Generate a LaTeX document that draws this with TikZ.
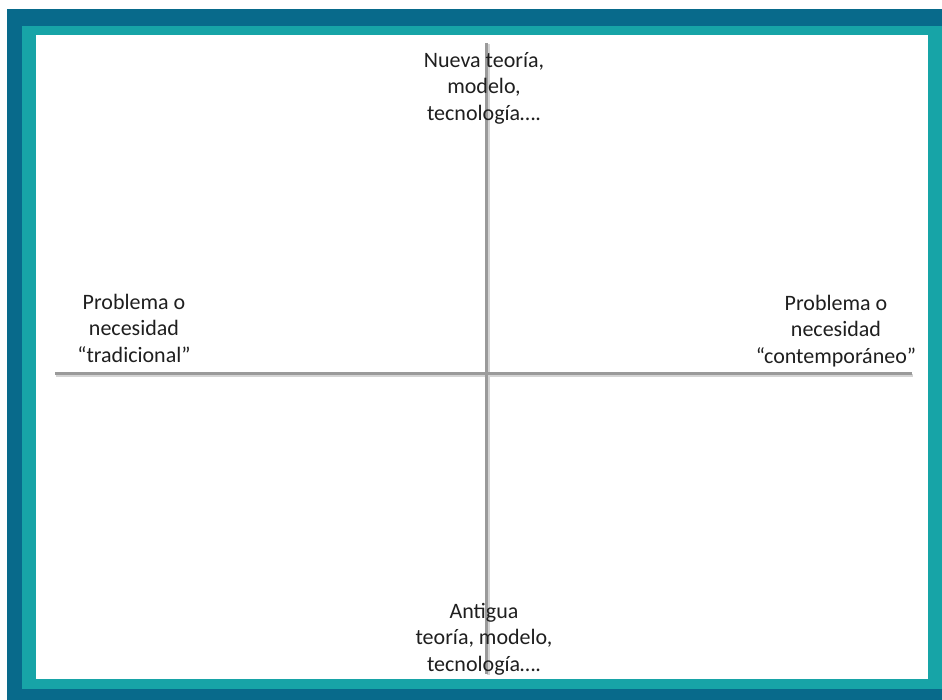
\documentclass[tikz,border=0pt]{standalone}
\usepackage{fontspec}
\setmainfont{Carlito}
\definecolor{framedark}{HTML}{086A8B}
\definecolor{frameteal}{HTML}{17A4A7}
\definecolor{axisgray}{HTML}{9A9A9A}
\definecolor{axisshadow}{HTML}{D4D4D4}
\begin{document}
\begin{tikzpicture}[x=1pt,y=-1pt,
  lbl/.style={align=center,inner sep=0pt,text=black!88,font=\fontsize{22}{26.5}\selectfont},
  axis/.style={draw=axisgray,line width=3pt},
  axisshade/.style={draw=axisshadow,line width=3pt}]
\useasboundingbox (0,0) rectangle (942,700);
\fill[white] (0,0) rectangle (942,700);
\fill[framedark] (7,9) rectangle (942,700);
\fill[frameteal] (22,26) rectangle (942,689);
\fill[white] (36,35) rectangle (928,679);
\coordinate (hl) at (55,373);
\coordinate (hr) at (912,373);
\coordinate (vt) at (486,43);
\coordinate (vb) at (486,674);
\draw[axisshade] ([shift={(1,2)}]hl) -- ([shift={(1,2)}]hr);
\draw[axisshade] ([shift={(2,1)}]vt) -- ([shift={(2,1)}]vb);
\draw[axis] (hl) -- (hr);
\draw[axis] (vt) -- (vb);
\node[lbl] (top) at (484,88) {Nueva teoría,\\modelo,\\tecnología….};
\node[lbl] (left) at (134,328) {Problema o\\necesidad\\“tradicional”};
\node[lbl] (right) at (836,331) {Problema o\\necesidad\\“contemporáneo”};
\node[lbl] (bottom) at (484,639) {Antigua\\teoría, modelo,\\tecnología….};
\end{tikzpicture}
\end{document}
